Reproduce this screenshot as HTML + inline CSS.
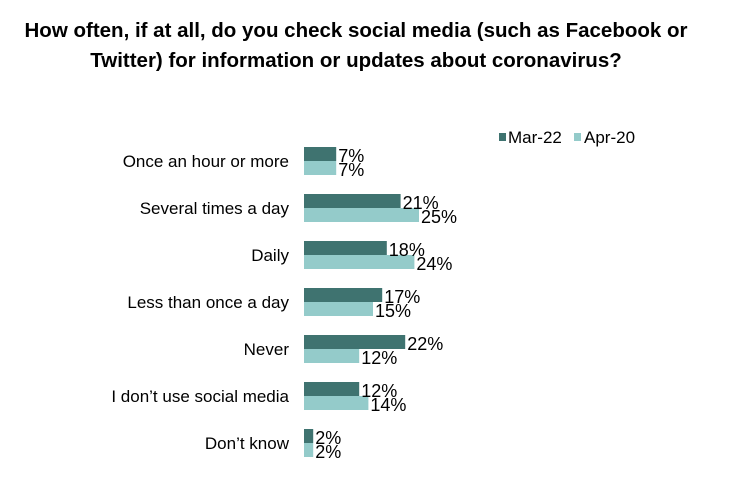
<!DOCTYPE html>
<html><head><meta charset="utf-8"><style>
body{margin:0;background:#fff;font-family:"Liberation Sans",Arial,sans-serif}
</style></head><body>
<svg width="754" height="497" xmlns="http://www.w3.org/2000/svg" style="font-family:'Liberation Sans',Arial,sans-serif">
<text x="356" y="37" text-anchor="middle" font-size="20.5" font-weight="bold">How often, if at all, do you check social media (such as Facebook or</text>
<text x="356" y="67" text-anchor="middle" font-size="20.5" font-weight="bold">Twitter) for information or updates about coronavirus?</text>
<g>
<rect x="499" y="133" width="7" height="8" fill="#3f7370"/>
<text x="508" y="143" font-size="17">Mar-22</text>
<rect x="574" y="133" width="7" height="8" fill="#94cbca"/>
<text x="584" y="143" font-size="17">Apr-20</text>
</g>
<g id="bars"></g>
</svg>
<script>
const categories=["Once an hour or more","Several times a day","Daily","Less than once a day","Never","I don\u2019t use social media","Don\u2019t know"];
const mar22=[7,21,18,17,22,12,2];
const apr20=[7,25,24,15,12,14,2];
const x0=304, pxPer=4.6, top0=147, step=47, bh=14;
const xs=v=>v*pxPer;
const g=document.getElementById('bars');
const NS="http://www.w3.org/2000/svg";
function mk(t,a){const e=document.createElementNS(NS,t);for(const k in a)e.setAttribute(k,a[k]);g.appendChild(e);return e;}
categories.forEach((c,i)=>{
  const y=top0+i*step;
  const lab=mk('text',{x:289,y:y+20,'text-anchor':'end','font-size':17});
  lab.textContent=c;
  
  
  const b1=mk('rect',{x:x0,y:y,width:xs(mar22[i]),height:bh,fill:'#3f7370'});
  
  
  const b2=mk('rect',{x:x0,y:y+bh,width:xs(apr20[i]),height:bh,fill:'#94cbca'});
  
  
  const t1=mk('text',{x:x0+xs(mar22[i])+2,y:y+15,'font-size':18});
  t1.textContent=mar22[i]+'%';
  
  
  const t2=mk('text',{x:x0+xs(apr20[i])+2,y:y+29,'font-size':18});
  t2.textContent=apr20[i]+'%';
  
  
});
</script>
</body></html>
